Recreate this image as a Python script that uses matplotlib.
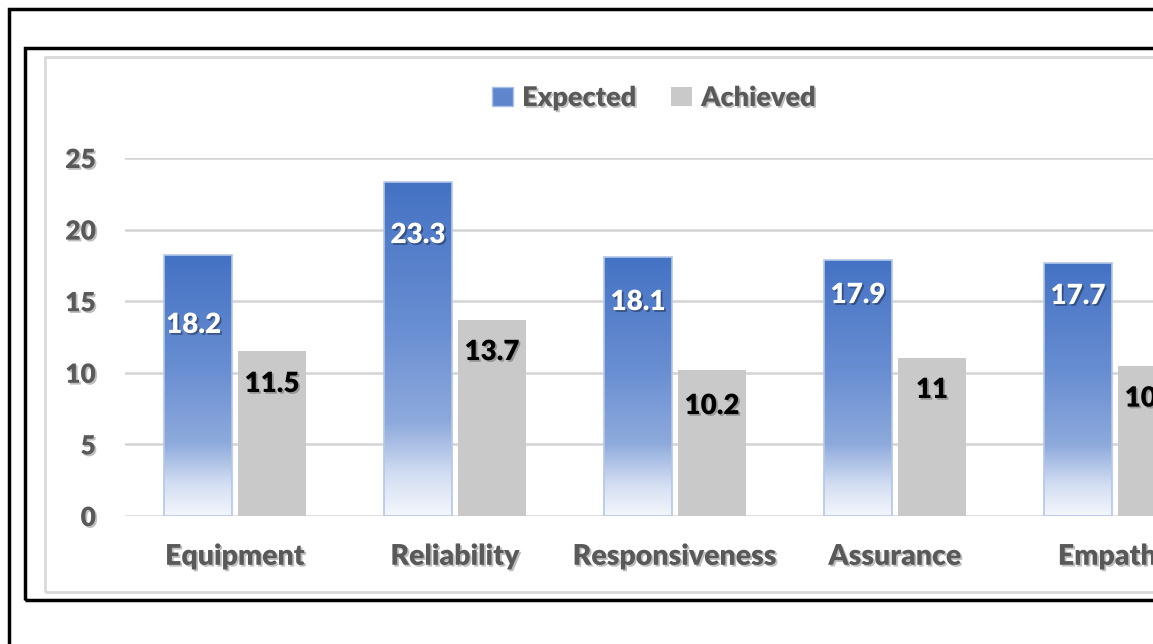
#Expected vs achieved service quality scores (grouped bars)
import numpy as np
import matplotlib
matplotlib.use("Agg")
from matplotlib import pyplot as plt
from matplotlib import patheffects as pe
from matplotlib.patches import Rectangle, Patch
from matplotlib.colors import LinearSegmentedColormap

categories = ["Equipment", "Reliability", "Responsiveness", "Assurance", "Empathy"]
expected = [18.2, 23.3, 18.1, 17.9, 17.7]
achieved = [11.5, 13.7, 10.2, 11.0, 10.5]
yticks = [0, 5, 10, 15, 20, 25]

#label placement (drop below bar top, data units) - picked by hand in original
exp_drop = [4.86, 3.68, 3.16, 2.47, 2.34]
ach_drop = [2.28, 2.25, 2.52, 2.2, 2.3]

plt.rcParams['font.family'] = ['Lato', 'DejaVu Sans']
W, H = 1153, 644
fig = plt.figure(figsize=(W/100, H/100), dpi=100)
ax = fig.add_axes([125/W, (H-516)/H, 1100/W, 358/H])

grey = '#595959'
shadow = [pe.withSimplePatchShadow(offset=(1.3, -1.3), shadow_rgbFace='k', alpha=0.35)]
shadow_light = [pe.withSimplePatchShadow(offset=(1.3, -1.3), shadow_rgbFace='k', alpha=0.25)]

x = np.arange(len(categories))
bw = 0.305
off = 0.168

bars_e = ax.bar(x-off, expected, bw, facecolor='none', edgecolor='#b4c7e7', linewidth=1.2, zorder=4)
bars_a = ax.bar(x+off, achieved, bw, color='#c9c9c9', zorder=3)

#gradient fill for expected bars
cmap = LinearSegmentedColormap.from_list('grad', [(0, '#f4f7fc'), (0.12, '#d3def2'),
                                                 (0.28, '#8eaadc'), (0.55, '#6a8fd2'),
                                                 (1, '#4472c4')])
grad = np.linspace(1, 0, 256).reshape(-1, 1)
for b in bars_e:
    bx, bwid, bh = b.get_x(), b.get_width(), b.get_height()
    im = ax.imshow(grad, cmap=cmap, extent=[bx, bx+bwid, 0, bh], aspect='auto',
                   origin='upper', zorder=3, vmin=0, vmax=1)
    im.set_clip_path(b)

ax.set_xlim(-0.5, len(categories)-0.5)
ax.set_ylim(0, 25)
ax.set_yticks(yticks)
ax.set_xticks(x)
ax.set_xticklabels(categories)

for s in ax.spines.values():
    s.set_visible(False)
ax.tick_params(length=0, labelsize=19, labelcolor=grey, pad=21)
ax.tick_params(axis='x', labelsize=20.5, pad=20)
for t in ax.get_xticklabels() + ax.get_yticklabels():
    t.set_fontweight('heavy')
    t.set_path_effects(shadow_light)
ax.yaxis.grid(True, color='#d4d4d4', linewidth=1.8, zorder=0)
ax.set_axisbelow(True)

for i in range(len(categories)):
    ax.text(x[i]-off-0.02*(i == 0), expected[i]-exp_drop[i], f"{expected[i]:g}",
            ha='center', va='center', color='white', fontsize=20, fontweight='heavy',
            zorder=6, path_effects=shadow)
    ax.text(x[i]+off, achieved[i]-ach_drop[i], f"{achieved[i]:g}",
            ha='center', va='center', color='black', fontsize=20, fontweight='heavy',
            zorder=6, path_effects=shadow_light)

handles = [Patch(facecolor='#5f86cc', edgecolor='#a9c0e8'), Patch(facecolor='#c9c9c9')]
leg = fig.legend(handles, ['Expected', 'Achieved'], loc='center', bbox_to_anchor=(654/W, 1-98/H),
                 ncol=2, frameon=False, fontsize=19.5, handlelength=0.75, handleheight=0.75,
                 handletextpad=0.35, columnspacing=1.3)
for t in leg.get_texts():
    t.set_color(grey)
    t.set_fontweight('heavy')
    t.set_path_effects(shadow_light)

#frames (cut off on the right as in the original screenshot)
fig.add_artist(Rectangle((9/W, -0.2), 2, 1.2-9/H, transform=fig.transFigure,
                         fill=False, edgecolor='black', linewidth=2.5))
fig.add_artist(Rectangle((25/W, 1-600/H), 2, 552/H, transform=fig.transFigure,
                         fill=False, edgecolor='black', linewidth=2.5))
fig.add_artist(Rectangle((45/W, 1-592/H), 2, 535/H, transform=fig.transFigure,
                         fill=False, edgecolor='#d9d9d9', linewidth=2))

plt.savefig("out.png", dpi=100)
